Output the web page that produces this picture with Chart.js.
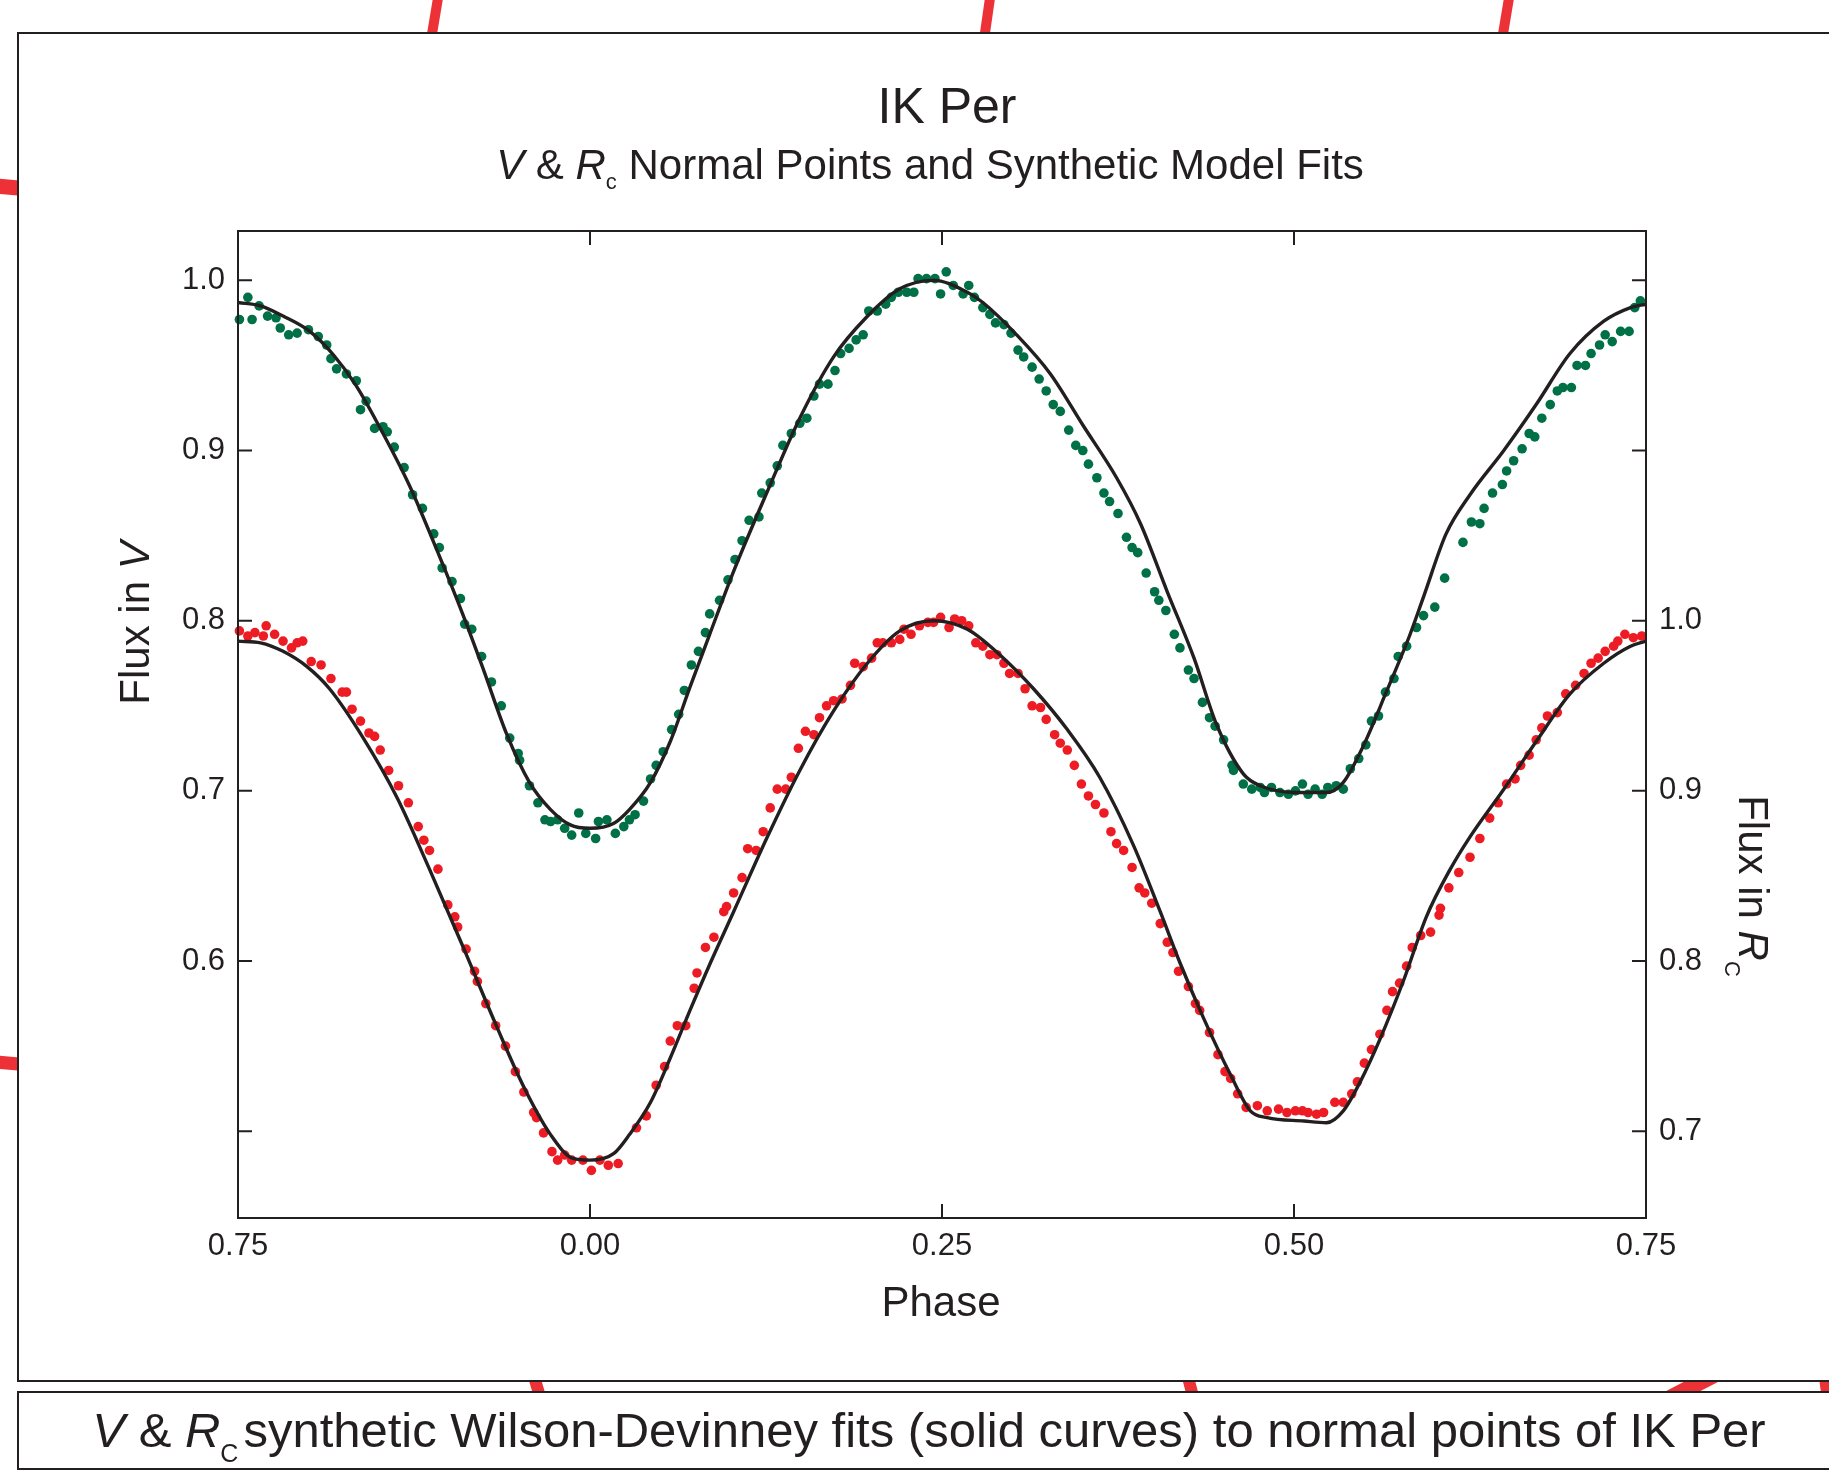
<!DOCTYPE html>
<html>
<head>
<meta charset="utf-8">
<title>IK Per</title>
<script src="https://cdn.jsdelivr.net/npm/chart.js@4.4.1/dist/chart.umd.min.js"></script>
<style>
  html, body { margin: 0; padding: 0; width: 1829px; height: 1470px; overflow: hidden; background: #fff; }
  body { position: relative; font-family: 'Liberation Sans', Arial, sans-serif; color: #231f20; }
  #decor { position: absolute; left: 0; top: 0; z-index: 0; }
  .box { position: absolute; border: 2px solid #231f20; background: #fff; z-index: 1; }
  #c { position: absolute; left: 0; top: 0; z-index: 2; }
  .txt { position: absolute; white-space: nowrap; line-height: 1; text-align: center; z-index: 3; }
  .sub { position: relative; }
</style>
</head>
<body>

<svg id="decor" width="1829" height="1470">
  <g stroke="#ed3237" stroke-width="10" fill="none">
    <line x1="438" y1="-2" x2="431" y2="40" />
    <line x1="990" y1="-2" x2="984" y2="40" />
    <line x1="1509" y1="-2" x2="1502" y2="40" />
    <line x1="-4" y1="186" x2="30" y2="189" stroke-width="15" />
    <line x1="-4" y1="1062" x2="30" y2="1065" stroke-width="13" />
    <line x1="532" y1="1370" x2="541" y2="1400" stroke-width="12" />
    <line x1="1186" y1="1370" x2="1194" y2="1400" stroke-width="12" />
    <line x1="1720" y1="1372" x2="1666" y2="1400" stroke-width="16" />
    <line x1="1823" y1="1370" x2="1827" y2="1400" stroke-width="10" />
  </g>
</svg>

<div class="box" style="left:17px; top:32px; width:1830px; height:1346px;"></div>
<div class="box" style="left:17px; top:1391px; width:1830px; height:75px;"></div>

<canvas id="c" width="1829" height="1470"></canvas>

<div class="txt" style="left:347px; top:81px; width:1200px; font-size:50px;">IK Per</div>
<div class="txt" style="left:330px; top:144px; width:1200px; font-size:42px;"><i>V</i> &amp; <i>R</i><span class="sub" style="font-size:22px; top:10px;">c</span> Normal Points and Synthetic Model Fits</div>
<div class="txt" style="left:341px; top:1281px; width:1200px; font-size:42px;">Phase</div>
<div class="txt" style="left:-65px; top:602px; width:400px; font-size:42px; transform:rotate(-90deg);">Flux in <i>V</i></div>
<div class="txt" style="left:1553px; top:865px; width:400px; font-size:42px; transform:rotate(90deg);">Flux in <i>R</i><span class="sub" style="font-size:22px; top:14px;">C</span></div>
<div class="txt" style="left:-21px; top:1406px; width:1900px; font-size:49px;"><i>V</i> &amp; <i>R</i><span class="sub" style="font-size:25px; top:15px; margin-right:5px;">C</span>synthetic Wilson-Devinney fits (solid curves) to normal points of IK Per</div>

<script>
// V normal points (green), flux on left axis
const vPhase = [
  -0.249, -0.243, -0.240, -0.235, -0.229, -0.223, -0.220, -0.214, -0.208, -0.200,
  -0.193, -0.187, -0.184, -0.180, -0.173, -0.166, -0.159, -0.163, -0.153, -0.147,
  -0.144, -0.139, -0.132, -0.126, -0.119, -0.111, -0.107, -0.105, -0.098, -0.092,
  -0.089, -0.084, -0.077, -0.070, -0.063, -0.057, -0.051, -0.050, -0.043, -0.037,
  -0.032, -0.028, -0.023, -0.018, -0.013, -0.008, -0.003, 0.004, 0.006, 0.012,
  0.018, 0.024, 0.028, 0.032, 0.038, 0.043, 0.047, 0.052, 0.058, 0.063,
  0.067, 0.072, 0.077, 0.082, 0.085, 0.092, 0.098, 0.103, 0.108, 0.113,
  0.120, 0.122, 0.128, 0.133, 0.137, 0.143, 0.149, 0.154, 0.159, 0.163,
  0.169, 0.174, 0.178, 0.184, 0.189, 0.194, 0.198, 0.204, 0.210, 0.214,
  0.219, 0.225, 0.230, 0.233, 0.239, 0.245, 0.249, 0.253, 0.258, 0.265,
  0.269, 0.273, 0.279, 0.284, 0.288, 0.294, 0.299, 0.304, 0.308, 0.314,
  0.319, 0.324, 0.329, 0.334, 0.340, 0.345, 0.350, 0.354, 0.360, 0.365,
  0.369, 0.375, 0.381, 0.385, 0.389, 0.395, 0.401, 0.404, 0.409, 0.415,
  0.419, 0.425, 0.429, 0.435, 0.440, 0.444, 0.450, 0.456, 0.457, 0.464,
  0.470, 0.476, 0.479, 0.484, 0.490, 0.496, 0.501, 0.506, 0.510, 0.515,
  0.520, 0.524, 0.530, 0.535, 0.540, 0.546, 0.551, 0.555, 0.560, 0.565,
  0.571, 0.574, 0.580, 0.587, 0.592, 0.600, 0.607, 0.620, 0.626, 0.632,
  0.635, 0.641, 0.648, 0.651, 0.656, 0.662, 0.667, 0.671, 0.676, 0.682,
  0.687, 0.691, 0.697, 0.701, 0.707, 0.711, 0.717, 0.721, 0.726, 0.732,
  0.738, 0.742, 0.746
];
const vFlux = [
  0.977, 0.990, 0.977, 0.985, 0.979, 0.978, 0.972, 0.968, 0.969, 0.971,
  0.967, 0.962, 0.954, 0.948, 0.945, 0.941, 0.929, 0.924, 0.913, 0.914,
  0.911, 0.902, 0.890, 0.874, 0.866, 0.851, 0.843, 0.831, 0.823, 0.813,
  0.798, 0.795, 0.779, 0.764, 0.750, 0.731, 0.722, 0.718, 0.703, 0.693,
  0.683, 0.682, 0.683, 0.678, 0.674, 0.687, 0.675, 0.672, 0.682, 0.683,
  0.675, 0.679, 0.683, 0.686, 0.694, 0.707, 0.715, 0.723, 0.736, 0.745,
  0.759, 0.774, 0.782, 0.793, 0.804, 0.812, 0.824, 0.836, 0.847, 0.859,
  0.861, 0.875, 0.881, 0.891, 0.903, 0.910, 0.916, 0.919, 0.932, 0.939,
  0.939, 0.947, 0.957, 0.960, 0.965, 0.968, 0.982, 0.982, 0.986, 0.990,
  0.993, 0.993, 0.993, 1.001, 1.001, 1.001, 0.992, 1.005, 0.997, 0.992,
  0.997, 0.990, 0.984, 0.980, 0.975, 0.974, 0.969, 0.959, 0.955, 0.949,
  0.942, 0.935, 0.927, 0.923, 0.912, 0.903, 0.900, 0.892, 0.884, 0.875,
  0.870, 0.863, 0.849, 0.843, 0.840, 0.828, 0.817, 0.812, 0.806, 0.792,
  0.784, 0.771, 0.766, 0.752, 0.743, 0.738, 0.730, 0.715, 0.712, 0.704,
  0.701, 0.702, 0.699, 0.702, 0.699, 0.698, 0.700, 0.704, 0.698, 0.701,
  0.698, 0.702, 0.703, 0.701, 0.713, 0.719, 0.727, 0.741, 0.744, 0.758,
  0.766, 0.779, 0.785, 0.796, 0.803, 0.808, 0.825, 0.846, 0.858, 0.857,
  0.866, 0.875, 0.880, 0.888, 0.894, 0.901, 0.910, 0.908, 0.919, 0.927,
  0.935, 0.937, 0.937, 0.950, 0.950, 0.957, 0.962, 0.968, 0.964, 0.970,
  0.970, 0.984, 0.988
];

// Rc normal points (red), flux on right axis
const rPhase = [
  -0.249, -0.243, -0.238, -0.232, -0.230, -0.224, -0.218, -0.212, -0.208, -0.204,
  -0.198, -0.191, -0.184, -0.176, -0.173, -0.169, -0.163, -0.157, -0.153, -0.149,
  -0.143, -0.136, -0.129, -0.122, -0.118, -0.114, -0.108, -0.101, -0.096, -0.094,
  -0.088, -0.082, -0.080, -0.074, -0.067, -0.060, -0.053, -0.047, -0.040, -0.038,
  -0.033, -0.027, -0.023, -0.018, -0.013, -0.005, 0.001, 0.007, 0.013, 0.020,
  0.033, 0.040, 0.047, 0.053, 0.057, 0.062, 0.068, 0.074, 0.076, 0.082,
  0.088, 0.095, 0.097, 0.102, 0.108, 0.112, 0.118, 0.123, 0.128, 0.133,
  0.139, 0.143, 0.148, 0.153, 0.159, 0.163, 0.168, 0.173, 0.179, 0.185,
  0.188, 0.194, 0.200, 0.204, 0.208, 0.214, 0.220, 0.223, 0.228, 0.234,
  0.240, 0.244, 0.249, 0.255, 0.259, 0.264, 0.269, 0.274, 0.279, 0.284,
  0.289, 0.294, 0.298, 0.304, 0.309, 0.314, 0.320, 0.324, 0.330, 0.334,
  0.339, 0.344, 0.349, 0.354, 0.359, 0.365, 0.370, 0.374, 0.379, 0.385,
  0.390, 0.394, 0.399, 0.405, 0.410, 0.414, 0.418, 0.425, 0.430, 0.433,
  0.440, 0.446, 0.451, 0.455, 0.460, 0.466, 0.474, 0.481, 0.489, 0.495,
  0.501, 0.506, 0.510, 0.516, 0.521, 0.529, 0.535, 0.541, 0.545, 0.550,
  0.555, 0.561, 0.566, 0.570, 0.575, 0.580, 0.584, 0.590, 0.597, 0.603,
  0.604, 0.610, 0.617, 0.625, 0.632, 0.639, 0.645, 0.651, 0.657, 0.661,
  0.667, 0.672, 0.676, 0.680, 0.687, 0.693, 0.700, 0.706, 0.711, 0.716,
  0.721, 0.727, 0.730, 0.735, 0.741, 0.747
];
const rFlux = [
  0.994, 0.991, 0.993, 0.991, 0.997, 0.992, 0.988, 0.984, 0.987, 0.988,
  0.976, 0.974, 0.966, 0.958, 0.958, 0.948, 0.941, 0.934, 0.932, 0.924,
  0.912, 0.903, 0.893, 0.879, 0.871, 0.865, 0.854, 0.833, 0.826, 0.820,
  0.807, 0.794, 0.788, 0.775, 0.762, 0.750, 0.735, 0.723, 0.711, 0.708,
  0.699, 0.688, 0.683, 0.686, 0.683, 0.683, 0.677, 0.683, 0.680, 0.681,
  0.702, 0.709, 0.727, 0.738, 0.753, 0.762, 0.762, 0.784, 0.793, 0.808,
  0.814, 0.829, 0.832, 0.840, 0.849, 0.866, 0.865, 0.876, 0.890, 0.901,
  0.901, 0.908, 0.925, 0.935, 0.933, 0.943, 0.950, 0.953, 0.954, 0.962,
  0.975, 0.973, 0.978, 0.987, 0.987, 0.987, 0.989, 0.995, 0.992, 0.997,
  0.999, 0.999, 1.002, 0.996, 1.001, 1.000, 0.997, 0.987, 0.985, 0.980,
  0.980, 0.975, 0.969, 0.969, 0.960, 0.950, 0.949, 0.942, 0.933, 0.928,
  0.924, 0.915, 0.904, 0.897, 0.892, 0.887, 0.876, 0.869, 0.865, 0.855,
  0.843, 0.840, 0.834, 0.822, 0.811, 0.805, 0.794, 0.785, 0.775, 0.771,
  0.758, 0.745, 0.735, 0.731, 0.722, 0.714, 0.715, 0.712, 0.713, 0.711,
  0.712, 0.712, 0.711, 0.710, 0.711, 0.717, 0.717, 0.722, 0.729, 0.740,
  0.748, 0.757, 0.771, 0.782, 0.787, 0.797, 0.808, 0.815, 0.817, 0.827,
  0.831, 0.843, 0.852, 0.861, 0.872, 0.884, 0.893, 0.904, 0.907, 0.915,
  0.921, 0.930, 0.937, 0.944, 0.946, 0.957, 0.962, 0.969, 0.975, 0.978,
  0.982, 0.985, 0.988, 0.992, 0.990, 0.991
];

// Wilson-Devinney synthetic curves (solid black)
const vFitPhase = [
  -0.250, -0.234, -0.218, -0.199, -0.182, -0.166, -0.147, -0.128, -0.109, -0.090,
  -0.076, -0.059, -0.043, -0.028, -0.014, 0.000, 0.017, 0.028, 0.043, 0.057,
  0.071, 0.085, 0.102, 0.126, 0.149, 0.173, 0.196, 0.220, 0.244, 0.268,
  0.279, 0.303, 0.327, 0.350, 0.374, 0.391, 0.410, 0.429, 0.445, 0.464,
  0.476, 0.502, 0.523, 0.535, 0.549, 0.566, 0.582, 0.592, 0.608, 0.625,
  0.649, 0.672, 0.696, 0.720, 0.739, 0.750
];
const vFitFlux = [
  0.987, 0.985, 0.979, 0.970, 0.956, 0.938, 0.910, 0.879, 0.842, 0.803,
  0.772, 0.733, 0.705, 0.689, 0.680, 0.678, 0.681, 0.689, 0.705, 0.729,
  0.761, 0.792, 0.829, 0.876, 0.919, 0.955, 0.978, 0.995, 1.000, 0.993,
  0.987, 0.968, 0.945, 0.915, 0.884, 0.857, 0.817, 0.778, 0.739, 0.710,
  0.703, 0.699, 0.699, 0.705, 0.726, 0.759, 0.791, 0.814, 0.851, 0.874,
  0.900, 0.927, 0.957, 0.976, 0.984, 0.986
];
const rFitPhase = [
  -0.250, -0.234, -0.218, -0.201, -0.185, -0.161, -0.137, -0.114, -0.090, -0.066,
  -0.047, -0.028, -0.012, 0.000, 0.017, 0.028, 0.043, 0.057, 0.071, 0.085,
  0.102, 0.126, 0.149, 0.173, 0.197, 0.220, 0.244, 0.268, 0.291, 0.315,
  0.339, 0.362, 0.386, 0.405, 0.419, 0.436, 0.455, 0.469, 0.481, 0.507,
  0.523, 0.535, 0.547, 0.561, 0.578, 0.594, 0.611, 0.625, 0.649, 0.672,
  0.696, 0.720, 0.739, 0.750
];
const rFitFlux = [
  0.988, 0.987, 0.982, 0.973, 0.960, 0.931, 0.896, 0.854, 0.808, 0.761,
  0.726, 0.698, 0.684, 0.683, 0.687, 0.698, 0.717, 0.743, 0.771, 0.798,
  0.829, 0.873, 0.912, 0.947, 0.975, 0.994, 1.000, 0.995, 0.980, 0.960,
  0.936, 0.908, 0.868, 0.829, 0.799, 0.766, 0.733, 0.712, 0.708, 0.706,
  0.705, 0.712, 0.729, 0.754, 0.789, 0.826, 0.854, 0.873, 0.901, 0.929,
  0.957, 0.975, 0.985, 0.988
];

const ink = '#231f20';
const green = '#007046';
const red = '#ed1c24';
const tickFont = { family: "'Liberation Sans', Arial, sans-serif", size: 31 };
const tickLen = 14;

function toPoints(xs, ys) {
  return xs.map((x, i) => ({ x: x, y: ys[i] }));
}

// plot box and inward tick marks on all four sides
const framePlugin = {
  id: 'frame',
  afterDraw(chart) {
    const { ctx, chartArea: a, scales } = chart;
    ctx.save();
    ctx.strokeStyle = ink;
    ctx.lineWidth = 2;
    ctx.strokeRect(a.left, a.top, a.right - a.left, a.bottom - a.top);
    ctx.beginPath();
    scales.x.ticks.forEach(t => {
      if (t.value <= scales.x.min || t.value >= scales.x.max) return;
      const px = scales.x.getPixelForValue(t.value);
      ctx.moveTo(px, a.bottom);
      ctx.lineTo(px, a.bottom - tickLen);
      ctx.moveTo(px, a.top);
      ctx.lineTo(px, a.top + tickLen);
    });
    scales.y.ticks.forEach(t => {
      const py = scales.y.getPixelForValue(t.value);
      ctx.moveTo(a.left, py);
      ctx.lineTo(a.left + tickLen, py);
    });
    scales.y2.ticks.forEach(t => {
      const py = scales.y2.getPixelForValue(t.value);
      ctx.moveTo(a.right, py);
      ctx.lineTo(a.right - tickLen, py);
    });
    ctx.stroke();
    ctx.restore();
  }
};

const ctx = document.getElementById('c').getContext('2d');
const chart = new Chart(ctx, {
  type: 'scatter',
  data: {
    datasets: [
      {
        type: 'line', label: 'V fit', data: toPoints(vFitPhase, vFitFlux), yAxisID: 'y',
        borderColor: ink, borderWidth: 3.4, pointRadius: 0, fill: false,
        cubicInterpolationMode: 'monotone', order: 0
      },
      {
        type: 'line', label: 'Rc fit', data: toPoints(rFitPhase, rFitFlux), yAxisID: 'y2',
        borderColor: ink, borderWidth: 3.4, pointRadius: 0, fill: false,
        cubicInterpolationMode: 'monotone', order: 0
      },
      {
        label: 'V', data: toPoints(vPhase, vFlux), yAxisID: 'y',
        backgroundColor: green, borderWidth: 0, pointRadius: 4.8, clip: false, order: 1
      },
      {
        label: 'Rc', data: toPoints(rPhase, rFlux), yAxisID: 'y2',
        backgroundColor: red, borderWidth: 0, pointRadius: 4.8, clip: false, order: 1
      }
    ]
  },
  options: {
    responsive: false,
    animation: false,
    devicePixelRatio: 1,
    layout: { padding: { left: 138, right: 63, top: 231, bottom: 152 } },
    plugins: { legend: { display: false }, tooltip: { enabled: false } },
    scales: {
      x: {
        type: 'linear', position: 'bottom', min: -0.25, max: 0.75,
        grid: { display: false, drawTicks: false },
        border: { display: false },
        ticks: {
          stepSize: 0.25, padding: 10, font: tickFont, color: ink, maxRotation: 0,
          callback: v => (v < 0 ? v + 1 : v).toFixed(2)
        },
        afterFit: s => { s.height = 100; }
      },
      y: {
        type: 'linear', position: 'left', min: 0.449, max: 1.029,
        grid: { display: false, drawTicks: false },
        border: { display: false },
        ticks: {
          stepSize: 0.1, includeBounds: false, padding: 13, font: tickFont, color: ink,
          callback: v => (v < 0.55 ? '' : v.toFixed(1))
        },
        afterFit: s => { s.width = 100; }
      },
      y2: {
        type: 'linear', position: 'right', min: 0.649, max: 1.229,
        grid: { display: false, drawTicks: false },
        border: { display: false },
        ticks: {
          stepSize: 0.1, includeBounds: false, padding: 13, font: tickFont, color: ink,
          callback: v => (v > 1.05 ? '' : v.toFixed(1))
        },
        afterFit: s => { s.width = 120; }
      }
    }
  },
  plugins: [framePlugin]
});
</script>
</body>
</html>
